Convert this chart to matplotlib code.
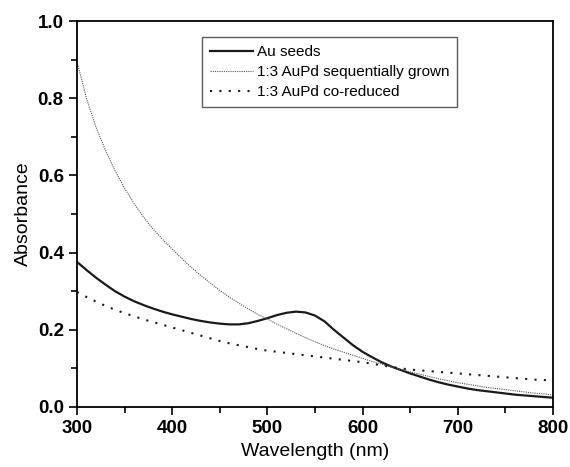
import matplotlib
matplotlib.use("Agg")
import matplotlib.pyplot as plt
from matplotlib.ticker import MultipleLocator, FormatStrFormatter

plt.rcParams['font.family'] = ['Liberation Sans', 'DejaVu Sans']

# wavelength grid (nm), read every 10 nm off the reference
wavelength = list(range(300, 801, 10))

au_seeds = [0.376, 0.355, 0.335, 0.317, 0.300, 0.286, 0.274, 0.264, 0.255, 0.247,
            0.240, 0.234, 0.228, 0.223, 0.219, 0.216, 0.214, 0.214, 0.217, 0.223,
            0.230, 0.238, 0.244, 0.247, 0.245, 0.237, 0.222, 0.200, 0.180, 0.160,
            0.143, 0.129, 0.116, 0.105, 0.096, 0.087, 0.079, 0.071, 0.064, 0.058,
            0.053, 0.048, 0.044, 0.041, 0.038, 0.035, 0.032, 0.030, 0.028, 0.026,
            0.024]

aupd_sequential = [0.895, 0.800, 0.725, 0.665, 0.612, 0.567, 0.527, 0.492, 0.461,
                   0.434, 0.409, 0.385, 0.362, 0.341, 0.321, 0.302, 0.285, 0.269,
                   0.254, 0.240, 0.228, 0.215, 0.203, 0.191, 0.180, 0.169, 0.159,
                   0.150, 0.142, 0.134, 0.126, 0.118, 0.111, 0.104, 0.097, 0.091,
                   0.085, 0.079, 0.073, 0.068, 0.063, 0.059, 0.055, 0.051, 0.048,
                   0.045, 0.042, 0.039, 0.036, 0.034, 0.031]

aupd_coreduced = [0.298, 0.285, 0.273, 0.262, 0.252, 0.243, 0.235, 0.227, 0.220,
                  0.213, 0.206, 0.199, 0.192, 0.185, 0.178, 0.171, 0.165, 0.160,
                  0.155, 0.150, 0.146, 0.143, 0.140, 0.137, 0.134, 0.131, 0.128,
                  0.125, 0.122, 0.119, 0.116, 0.112, 0.108, 0.104, 0.100, 0.097,
                  0.095, 0.093, 0.091, 0.089, 0.087, 0.085, 0.083, 0.081, 0.079,
                  0.077, 0.075, 0.073, 0.071, 0.070, 0.068]

fig = plt.figure(figsize=(5.70, 4.67), dpi=100)
ax = fig.add_axes([0.135, 0.1285, 0.835, 0.8265])

ax.plot(wavelength, au_seeds, color='#1a1a1a', lw=1.6, label='Au seeds')
ax.plot(wavelength, aupd_sequential, color='#555555', lw=0.8,
        linestyle=(0, (1, 1)), label='1:3 AuPd sequentially grown')
ax.plot(wavelength, aupd_coreduced, color='#1a1a1a', lw=1.5,
        linestyle=(0, (1, 3.5)), label='1:3 AuPd co-reduced')

ax.set_xlim(300, 800)
ax.set_ylim(0.0, 1.0)
ax.xaxis.set_major_locator(MultipleLocator(100))
ax.xaxis.set_minor_locator(MultipleLocator(50))
ax.yaxis.set_major_locator(MultipleLocator(0.2))
ax.yaxis.set_minor_locator(MultipleLocator(0.1))
ax.yaxis.set_major_formatter(FormatStrFormatter('%.1f'))
ax.tick_params(which='both', direction='out', width=1.2, top=False, right=False,
               labelsize=13.5)
ax.tick_params(which='major', length=6)
ax.tick_params(which='minor', length=4)
for lbl in ax.get_xticklabels() + ax.get_yticklabels():
    lbl.set_fontweight('bold')
for s in ax.spines.values():
    s.set_linewidth(1.3)

ax.set_xlabel('Wavelength (nm)', fontsize=14, labelpad=4)
ax.set_ylabel('Absorbance', fontsize=14, labelpad=4)

leg = ax.legend(loc='upper left', bbox_to_anchor=(0.263, 0.958), borderaxespad=0,
                fontsize=11, frameon=True, fancybox=False, handlelength=2.8,
                borderpad=0.5, labelspacing=0.4, handletextpad=0.3)
leg.get_frame().set_edgecolor('#333333')
leg.get_frame().set_linewidth(1.0)

fig.savefig('out.png', dpi=100)
